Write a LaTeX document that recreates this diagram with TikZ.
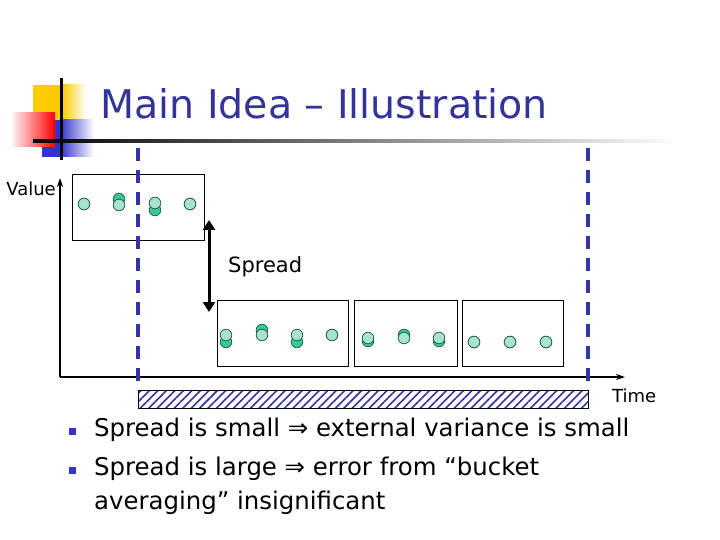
\documentclass[tikz,border=0pt]{standalone}
\usepackage{fontspec}
\setmainfont{DejaVu Sans}
\usetikzlibrary{arrows.meta,patterns.meta}
\definecolor{titleblue}{HTML}{333399}
\definecolor{dashblue}{HTML}{3333AA}
\definecolor{logoyellow}{HTML}{FFCC00}
\definecolor{logoblue}{HTML}{3333CC}
\definecolor{ptfront}{HTML}{A6E3D0}
\definecolor{ptback}{HTML}{33CC99}
\definecolor{ptline}{HTML}{2F5F50}
\tikzset{
  bucket/.style={draw, line width=0.9pt, minimum width=#1, minimum height=66pt, inner sep=0pt},
  window/.style={dashblue, line width=3.5pt, dash pattern=on 13pt off 9pt},
  axis/.style={line width=2pt, -{Stealth[length=9pt,width=6pt]}},
  frontpt/.style={draw=ptline, fill=ptfront, line width=0.8pt},
  backpt/.style={draw=ptline, fill=ptback, line width=0.8pt},
  label/.style={font=\fontsize{18}{21}\selectfont, inner sep=0pt},
  bullet/.style={fill=logoblue, minimum size=7pt, inner sep=0pt},
  body/.style={font=\fontsize{24.4}{28}\selectfont, anchor=base west, inner sep=0pt}
}
\begin{document}
\begin{tikzpicture}[x=1pt, y=-1pt]
    \useasboundingbox (0,0) rectangle (720,540);
    % logo
    \fill[logoyellow] (33,85) rectangle (62,120);
    \shade[left color=logoyellow, right color=white] (62,85) rectangle (86,120);
    \fill[logoblue] (42,120) rectangle (60,157);
    \shade[left color=logoblue, right color=white] (60,120) rectangle (94,157);
    \shade[left color=white, right color=red] (10,113) rectangle (55,147);
    \fill[black] (60,78) rectangle (62.5,160);
    \shade[left color=black, middle color=gray!60, right color=white] (33,140) rectangle (680,142.5);
    \node[text=titleblue, font=\fontsize{39.5}{44}\selectfont, anchor=base west, inner sep=0pt] (title) at (100,119) {Main Idea -- Illustration};
    % axes
    \coordinate (origin) at (60,377);
    \coordinate (ytop) at (60,178);
    \coordinate (xend) at (625,377);
    \draw[axis] (origin) -- (ytop);
    \draw[axis] (origin) -- (xend);
    \node[label, anchor=base east] (value) at (56,196) {Value};
    \node[label, anchor=base west] (time) at (612,402) {Time};
    % buckets
    \node[bucket=132pt] (b1) at (138,207) {};
    \node[bucket=131pt] (b2) at (282.5,333) {};
    \node[bucket=103pt] (b3) at (405.5,333) {};
    \node[bucket=101pt] (b4) at (512.5,333) {};
    % points: x / y / offset of the hidden point
    \foreach \px/\py/\d in {84/204/0, 119/205/-6, 155/203/7, 190/204/0,
                            226/335/7, 262/335/-5, 297/335/7, 332/335/0,
                            368/338/3, 404/338/-3, 439/338/3,
                            474/342/0, 510/342/0, 546/342/0}{
        \draw[backpt] (\px,\py+\d) circle (5.8pt);
        \draw[frontpt] (\px,\py) circle (5.8pt);
    }
    % window
    \draw[pattern={Lines[angle=45,distance=6pt,line width=1.6pt]}, pattern color=titleblue, line width=0.8pt] (138,390) rectangle (588,408);
    \draw[window] (138,148) -- (138,390);
    \draw[window] (588,148) -- (588,390);
    % spread
    \coordinate (sp1) at (209,220);
    \coordinate (sp2) at (209,312);
    \draw[line width=3pt, {Triangle[length=10pt,width=12pt]}-{Triangle[length=10pt,width=12pt]}] (sp1) -- (sp2);
    \node[font=\fontsize{21}{24}\selectfont, anchor=base west, inner sep=0pt] (spread) at (228,272) {Spread};
    % bullets
    \node[bullet] (m1) at (72,431) {};
    \node[bullet] (m2) at (72,470) {};
    \node[body] (t1) at (94,436) {Spread is small ⇒ external variance is small};
    \node[body] (t2) at (94,475) {Spread is large ⇒ error from “bucket};
    \node[body] (t3) at (94,509) {averaging” insignificant};
\end{tikzpicture}
\end{document}
